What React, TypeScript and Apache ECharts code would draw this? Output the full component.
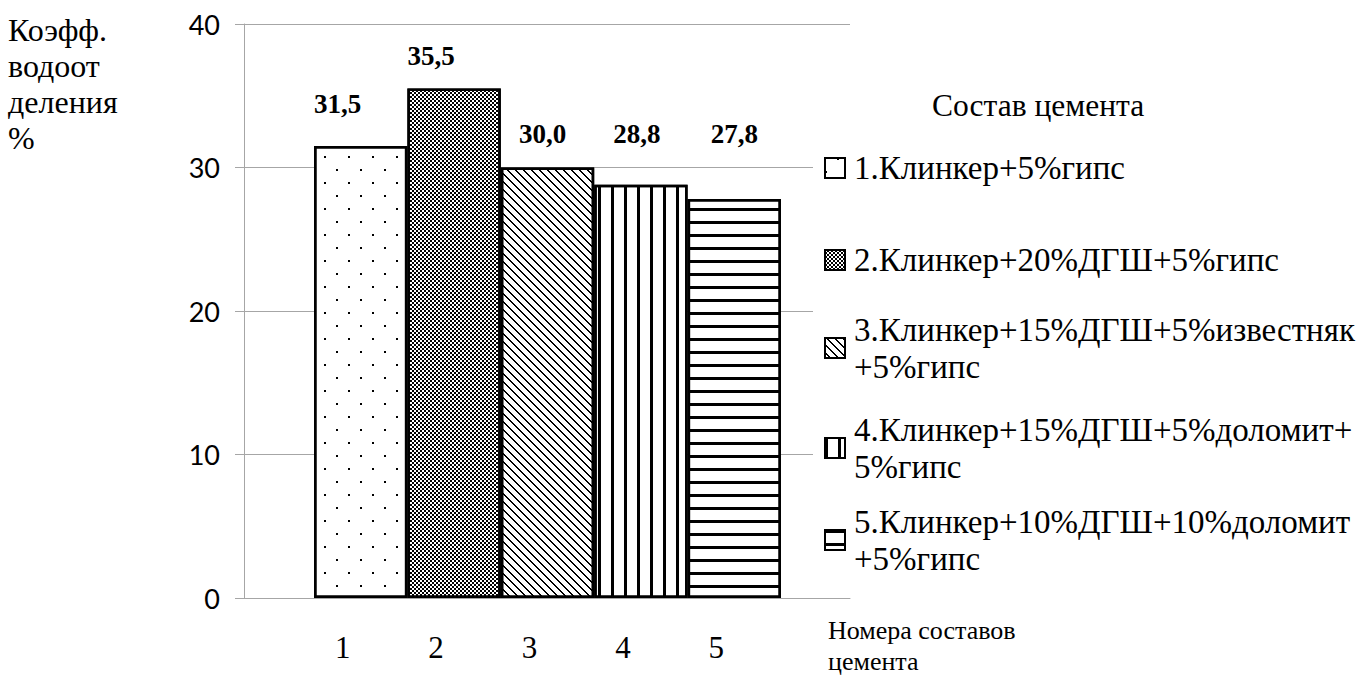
import React, { useEffect, useRef } from "react";
import * as echarts from "echarts";

const categories = ["1", "2", "3", "4", "5"];
const values = [31.5, 35.5, 30.0, 28.8, 27.8];
const seriesNames = [
  "1.Клинкер+5%гипс",
  "2.Клинкер+20%ДГШ+5%гипс",
  "3.Клинкер+15%ДГШ+5%известняк\n+5%гипс",
  "4.Клинкер+15%ДГШ+5%доломит+\n5%гипс",
  "5.Клинкер+10%ДГШ+10%доломит\n+5%гипс",
];
const yMin = 0;
const yMax = 40;
const yInterval = 10;
const yAxisTitle = "Коэфф.\nводоот\nделения\n%";
const xAxisTitle = "Номера составов\nцемента";
const legendTitle = "Состав цемента";

const SERIF = "Liberation Serif";

const baseDecal = { symbol: "rect", symbolSize: 1, color: "#000", backgroundColor: "#fff", symbolKeepAspect: false };
const decals: any[] = [
  { ...baseDecal, dashArrayX: [[2, 22], [0, 12, 2, 10]], dashArrayY: [2, 10.5] },
  { ...baseDecal, dashArrayX: [[2, 2], [0, 2, 2, 0]], dashArrayY: [2, 0] },
  {
    ...baseDecal,
    dashArrayX: [
      [2, 6],
      [0, 1, 2, 5],
      [0, 2, 2, 4],
      [0, 3, 2, 3],
      [0, 4, 2, 2],
      [0, 5, 2, 1],
      [0, 6, 2, 0],
      [1, 6, 1, 0],
    ],
    dashArrayY: [1, 0],
  },
  { ...baseDecal, dashArrayX: [3, 10], dashArrayY: [1, 0] },
  { ...baseDecal, dashArrayX: [1, 0], dashArrayY: [3, 10] },
];

export default function App() {
  const ref = useRef<HTMLDivElement>(null);
  useEffect(() => {
    if (!ref.current) return;
    const chart = echarts.init(ref.current, null, { renderer: "svg" });

    const labelOffsets = [
      [-23, -23],
      [-23, -14],
      [-5, -15],
      [-4, -32],
      [0, -47],
    ];
    const legendLineCenters = [168, 260, 348, 448, 540];

    const series = seriesNames.map((name, i) => ({
      name,
      type: "bar",
      xAxisIndex: 1,
      yAxisIndex: 1,
      stack: "all",
      barCategoryGap: "0%",
      data: categories.map((_, j) => (j === i ? values[j] : "-")),
      itemStyle: { color: "#fff", borderColor: "#000", borderWidth: 2.5, decal: decals[i] },
      emphasis: { disabled: true },
      label: {
        show: true,
        position: "top",
        offset: labelOffsets[i],
        fontFamily: SERIF,
        fontWeight: "bold",
        fontSize: 27,
        color: "#000",
        formatter: (p: any) => Number(p.value).toFixed(1).replace(".", ","),
      },
    }));

    const legends = seriesNames.map((name, i) => {
      const twoLine = name.indexOf("\n") >= 0;
      const c = legendLineCenters[i];
      return {
        orient: "vertical",
        left: 824,
        top: twoLine ? c - 55.5 : c - 18.5,
        padding: 0,
        icon: "rect",
        itemWidth: 20,
        itemHeight: 20,
        selectedMode: false,
        data: [name],
        itemStyle: { borderColor: "#000", borderWidth: 2 },
        textStyle: {
          fontFamily: SERIF,
          fontSize: 33,
          lineHeight: 37,
          color: "#000",
          padding: twoLine ? [37, 0, 0, 4] : [0, 0, 0, 4],
        },
      };
    });

    const option: any = {
      animation: false,
      backgroundColor: "#ffffff",
      title: [
        {
          text: yAxisTitle,
          left: 8,
          top: 12,
          padding: 0,
          textStyle: { fontFamily: SERIF, fontSize: 32, lineHeight: 36, fontWeight: "normal", color: "#000" },
        },
        {
          text: legendTitle,
          left: 932,
          top: 87,
          padding: 0,
          textStyle: { fontFamily: SERIF, fontSize: 31.5, lineHeight: 36, fontWeight: "normal", color: "#000" },
        },
        {
          text: xAxisTitle,
          left: 828,
          top: 615,
          padding: 0,
          textStyle: { fontFamily: SERIF, fontSize: 26, lineHeight: 31, fontWeight: "normal", color: "#000" },
        },
      ],
      legend: legends,
      grid: [
        { left: 244, right: 516, top: 24, bottom: 77 },
        { left: 314, right: 585, top: 24, bottom: 77 },
      ],
      xAxis: [
        {
          type: "value",
          gridIndex: 0,
          min: 0,
          max: 1,
          axisLine: { show: true, lineStyle: { color: "#a6a6a6", width: 1 } },
          axisTick: { show: false },
          axisLabel: { show: false },
          splitLine: { show: false },
        },
        {
          type: "category",
          gridIndex: 1,
          data: categories,
          axisLine: { show: false },
          axisTick: { show: false },
          axisLabel: {
            fontFamily: SERIF,
            fontSize: 31,
            color: "#000",
            margin: 34,
            padding: [0, 36, 0, 0],
          },
        },
      ],
      yAxis: [
        {
          type: "value",
          gridIndex: 0,
          min: yMin,
          max: yMax,
          interval: yInterval,
          axisLine: { show: true, lineStyle: { color: "#a6a6a6", width: 1 } },
          axisTick: { show: true, length: 9, lineStyle: { color: "#a6a6a6" } },
          axisLabel: { fontFamily: "Lato", fontSize: 27, color: "#000", margin: 24 },
          splitLine: { show: true, lineStyle: { color: "#a6a6a6", width: 1 } },
        },
        {
          type: "value",
          gridIndex: 1,
          min: yMin,
          max: yMax,
          interval: yInterval,
          show: false,
          splitLine: { show: false },
        },
      ],
      graphic: [
        {
          type: "rect",
          z: 3,
          shape: { x: 813, y: 60, width: 553, height: 534 },
          style: { fill: "#fff" },
          silent: true,
        },
      ],
      series,
    };

    chart.setOption(option);
    return () => chart.dispose();
  }, []);

  return (
    <div
      ref={ref}
      style={{ position: "fixed", left: 0, top: 0, width: 1366, height: 675, background: "#fff" }}
    />
  );
}
